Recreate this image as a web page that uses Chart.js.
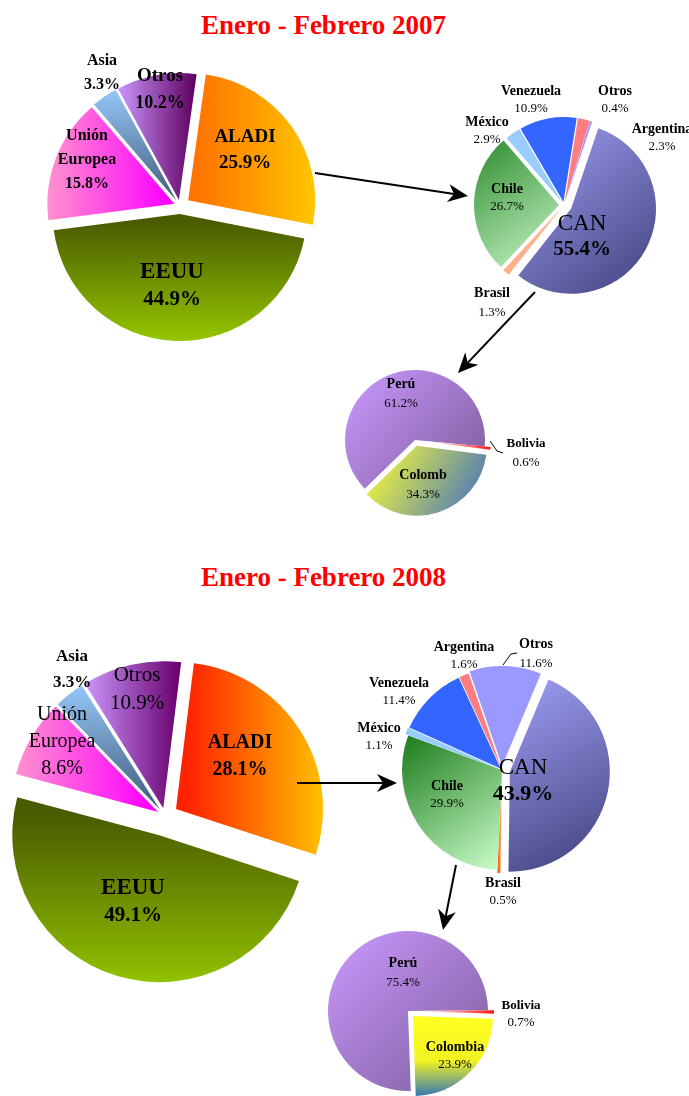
<!DOCTYPE html>
<html>
<head>
<meta charset="utf-8">
<script src="https://cdn.jsdelivr.net/npm/chart.js@4.4.1/dist/chart.umd.min.js"></script>
<style>
  html, body { margin: 0; padding: 0; overflow: hidden; background: #fff; }
  body { position: relative; width: 689px; height: 1096px; }
  canvas { position: absolute; }
  .title {
    position: absolute; left: 0; width: 647px; text-align: center;
    color: #ff0000; font: bold 27px "Liberation Serif", "DejaVu Serif", serif;
    line-height: 30px;
  }
  svg { position: absolute; left: 0; top: 0; pointer-events: none; }
</style>
</head>
<body>
<div class="title" style="top:10px">Enero - Febrero 2007</div>
<div class="title" style="top:562px">Enero - Febrero 2008</div>

<canvas id="main07" width="360" height="412" style="left:0;top:0"></canvas>
<canvas id="aladi07" width="300" height="300" style="left:414px;top:55px"></canvas>
<canvas id="can07" width="260" height="200" style="left:285px;top:340px"></canvas>
<canvas id="main08" width="330" height="400" style="left:0;top:616px"></canvas>
<canvas id="aladi08" width="320" height="320" style="left:342px;top:610px"></canvas>
<canvas id="can08" width="300" height="240" style="left:258px;top:891px"></canvas>

<svg id="overlay" width="689" height="1096"></svg>

<script>
// ---- data: Enero - Febrero 2007 ----
const main07Labels = ['ALADI', 'EEUU', 'Unión\nEuropea', 'Asia', 'Otros'];
const main07Values = [25.9, 44.9, 15.8, 3.3, 10.2];
const aladi07Labels = ['Argentina', 'Otros', 'CAN', 'Brasil', 'Chile', 'México', 'Venezuela'];
const aladi07Values = [2.3, 0.4, 55.4, 1.3, 26.7, 2.9, 10.9];
const can07Labels = ['Perú', 'Bolivia', 'Colomb'];
const can07Values = [61.2, 0.6, 34.3];

// ---- data: Enero - Febrero 2008 ----
const main08Labels = ['ALADI', 'EEUU', 'Unión\nEuropea', 'Asia', 'Otros'];
const main08Values = [28.1, 49.1, 8.6, 3.3, 10.9];
const aladi08Labels = ['Otros', 'CAN', 'Brasil', 'Chile', 'México', 'Venezuela', 'Argentina'];
const aladi08Values = [11.6, 43.9, 0.5, 29.9, 1.1, 11.4, 1.6];
const can08Labels = ['Perú', 'Bolivia', 'Colombia'];
const can08Values = [75.4, 0.7, 23.9];

const FONT = '"Liberation Serif", "DejaVu Serif", serif';

// bounding box of one (exploded) slice, used to lay gradients over it
function sliceBox(values, i, cfg, area) {
  const total = values.reduce((a, b) => a + b, 0);
  let a0 = (cfg.rotation - 90) * Math.PI / 180;
  for (let k = 0; k < i; k++) a0 += values[k] / total * 2 * Math.PI;
  const a1 = a0 + values[i] / total * 2 * Math.PI;
  const mid = (a0 + a1) / 2;
  const off = cfg.offsets[i] || 0;
  const cx = (area.left + area.right) / 2 + Math.cos(mid) * off;
  const cy = (area.top + area.bottom) / 2 + Math.sin(mid) * off;
  const R = cfg.radius;
  const angs = [a0, a1];
  for (let q = -8; q <= 12; q++) {
    const a = q * Math.PI / 2;
    if (a > a0 && a < a1) angs.push(a);
  }
  const xs = [cx], ys = [cy];
  angs.forEach(a => { xs.push(cx + R * Math.cos(a)); ys.push(cy + R * Math.sin(a)); });
  return { x0: Math.min(...xs), x1: Math.max(...xs), y0: Math.min(...ys), y1: Math.max(...ys) };
}

// draws each arc moved out along its middle angle (Excel style explode)
const explode = {
  id: 'explode',
  beforeDatasetDraw(chart, args, opts) {
    const ctx = chart.ctx;
    args.meta.data.forEach((arc, i) => {
      const d = opts.offsets[i] || 0;
      const mid = (arc.startAngle + arc.endAngle) / 2;
      ctx.save();
      ctx.translate(Math.cos(mid) * d, Math.sin(mid) * d);
      arc.draw(ctx);
      ctx.restore();
    });
    return false;
  }
};

const sliceLabels = {
  id: 'sliceLabels',
  afterDatasetsDraw(chart, args, opts) {
    const ctx = chart.ctx, a = chart.chartArea;
    const cx = (a.left + a.right) / 2, cy = (a.top + a.bottom) / 2;
    const vals = chart.data.datasets[0].data;
    ctx.save();
    ctx.textAlign = 'center';
    ctx.textBaseline = 'middle';
    ctx.fillStyle = '#000';
    chart.data.labels.forEach((lab, i) => {
      const p = opts.place[i];
      const lines = lab.split('\n').map(t => [t, p.name]);
      lines.push([vals[i].toFixed(1) + '%', p.value]);
      const h = p.lh * (lines.length - 1);
      lines.forEach(([t, f], k) => {
        ctx.font = f + ' ' + FONT;
        ctx.fillText(t, cx + p.x, cy + p.y - h / 2 + k * p.lh);
      });
    });
    ctx.restore();
  }
};

function makePie(id, labels, values, cfg) {
  const fillFor = (c) => {
    const spec = cfg.fills[c.dataIndex];
    if (typeof spec === 'string') return spec;
    const chart = c.chart, area = chart.chartArea;
    if (c.type !== 'data' || !area) return spec[1];
    const b = sliceBox(values, c.dataIndex, cfg, area);
    let g;
    if (spec[0] === 'h') g = chart.ctx.createLinearGradient(b.x0, 0, b.x1, 0);
    else if (spec[0] === 'v') g = chart.ctx.createLinearGradient(0, b.y0, 0, b.y1);
    else g = chart.ctx.createLinearGradient(b.x0, b.y0, b.x1, b.y1);
    const stops = spec.slice(1);
    stops.forEach((col, k) => g.addColorStop(k / (stops.length - 1), col));
    return g;
  };
  return new Chart(document.getElementById(id), {
    type: 'pie',
    data: {
      labels: labels,
      datasets: [{ data: values, backgroundColor: fillFor, borderWidth: 0 }]
    },
    options: {
      responsive: false,
      animation: false,
      events: [],
      rotation: cfg.rotation,
      radius: cfg.radius,
      layout: { padding: 0 },
      plugins: {
        legend: { display: false },
        tooltip: { enabled: false },
        explode: { offsets: cfg.offsets },
        sliceLabels: { place: cfg.place }
      }
    },
    plugins: [explode, sliceLabels]
  });
}

const B = 'bold';
const SN = B + ' 14px';   // small pie: names
const SV = '13px';        // small pie: values

// ---- 2007 ----
makePie('main07', main07Labels, main07Values, {
  rotation: 8, radius: 127,
  offsets: [10, 8, 6, 6, 6],
  fills: [
    ['h', '#FF7300', '#FFCC00'],
    ['v', '#4A5C00', '#9ACD00'],
    ['h', '#FF99CC', '#FF00FF'],
    ['v', '#99CCFF', '#46607E'],
    ['h', '#CC99FF', '#5E0060']
  ],
  place: [
    { x: 65, y: -56, lh: 26, name: B + ' 19px', value: B + ' 19px' },
    { x: -8, y: 80, lh: 28, name: B + ' 23px', value: B + ' 21px' },
    { x: -93, y: -46, lh: 24, name: B + ' 16px', value: B + ' 16px' },
    { x: -78, y: -133, lh: 24, name: B + ' 16px', value: B + ' 16px' },
    { x: -20, y: -116, lh: 27, name: '600 19px', value: '600 18px' }
  ]
});

makePie('aladi07', aladi07Labels, aladi07Values, {
  rotation: 9, radius: 85,
  offsets: [3, 3, 8, 4, 5, 3, 3],
  fills: [
    '#FF7C80',
    '#9999FF',
    ['d', '#9C9CF2', '#3E3E78'],
    '#FFB08A',
    ['d', '#2A8A2A', '#C8F5C8'],
    '#99CCFF',
    '#3366FF'
  ],
  place: [
    { x: 98, y: -67, lh: 18, name: SN, value: SV },
    { x: 51, y: -105, lh: 18, name: SN, value: SV },
    { x: 18, y: 32, lh: 26, name: '23px', value: B + ' 21px' },
    { x: -72, y: 98, lh: 19, name: SN, value: SV },
    { x: -57, y: -7, lh: 18, name: SN, value: SV },
    { x: -77, y: -74, lh: 18, name: SN, value: SV },
    { x: -33, y: -105, lh: 18, name: SN, value: SV }
  ]
});

makePie('can07', can07Labels, can07Values, {
  rotation: 226, radius: 70,
  offsets: [0, 6, 6],
  fills: [
    ['d', '#CC99FF', '#7A5C9A'],
    ['h', '#FFFFFF', '#FF0000'],
    ['d', '#FFFF33', '#3366CC']
  ],
  place: [
    { x: -14, y: -46, lh: 19, name: SN, value: SV },
    { x: 111, y: 13, lh: 19, name: B + ' 13px', value: SV },
    { x: 8, y: 45, lh: 19, name: SN, value: SV }
  ]
});

// ---- 2008 ----
makePie('main08', main08Labels, main08Values, {
  rotation: 7, radius: 147,
  offsets: [13, 20, 8, 8, 8],
  fills: [
    ['h', '#FF2200', '#FFCC00'],
    ['v', '#4A5C00', '#9ACD00'],
    ['h', '#FF99CC', '#FF00FF'],
    ['v', '#99CCFF', '#46607E'],
    ['h', '#CC99FF', '#6A006E']
  ],
  place: [
    { x: 75, y: -60, lh: 27, name: '600 20px', value: '600 20px' },
    { x: -32, y: 86, lh: 28, name: '600 23px', value: B + ' 21px' },
    { x: -103, y: -74, lh: 27, name: '500 20px', value: '500 20px' },
    { x: -93, y: -146, lh: 26, name: B + ' 17px', value: B + ' 17px' },
    { x: -28, y: -127, lh: 28, name: '500 21px', value: '500 21px' }
  ]
});

makePie('aladi08', aladi08Labels, aladi08Values, {
  rotation: -19, radius: 100,
  offsets: [4, 8, 3, 0, 3, 2, 2],
  fills: [
    '#9999FF',
    ['d', '#9C9CF2', '#3E3E78'],
    ['h', '#FF3300', '#FFCC66'],
    ['d', '#1A7A1A', '#CCFFCC'],
    '#99CCFF',
    '#3366FF',
    '#FF7C80'
  ],
  place: [
    { x: 34, y: -116, lh: 19, name: SN, value: SV },
    { x: 21, y: 11, lh: 26, name: '23px', value: B + ' 22px' },
    { x: 1, y: 122, lh: 18, name: SN, value: SV },
    { x: -55, y: 25, lh: 18, name: SN, value: SV },
    { x: -123, y: -33, lh: 18, name: SN, value: SV },
    { x: -103, y: -78, lh: 18, name: SN, value: SV },
    { x: -38, y: -114, lh: 18, name: SN, value: SV }
  ]
});

makePie('can08', can08Labels, can08Values, {
  rotation: 178, radius: 80,
  offsets: [0, 6, 7],
  fills: [
    ['d', '#CC99FF', '#7A5C9A'],
    ['h', '#FFFFFF', '#FF0000'],
    ['v', '#FFFF22', '#F2F222', '#1A66CC']
  ],
  place: [
    { x: -5, y: -38, lh: 19, name: SN, value: SV },
    { x: 113, y: 3, lh: 17, name: B + ' 13px', value: SV },
    { x: 47, y: 45, lh: 18, name: SN, value: SV }
  ]
});

// ---- arrows and leader lines between the pies ----
const arrows = [[315, 173, 468, 196], [535, 292, 458, 373], [297, 783, 397, 783], [456, 865, 443, 930]];
const leaders = [[490, 441, 497, 451, 503, 453], [503, 665, 511, 654, 517, 653]];
let svg = '';
arrows.forEach(([x0, y0, x1, y1]) => {
  const L = Math.hypot(x1 - x0, y1 - y0), ux = (x1 - x0) / L, uy = (y1 - y0) / L;
  const nx = -uy, ny = ux, hl = 20, hw = 9;
  const bx = x1 - ux * hl, by = y1 - uy * hl;
  const kx = x1 - ux * hl * 0.7, ky = y1 - uy * hl * 0.7;
  svg += `<line x1="${x0}" y1="${y0}" x2="${kx}" y2="${ky}" stroke="#000" stroke-width="2"/>`;
  svg += `<path d="M${x1},${y1} L${bx + nx * hw},${by + ny * hw} L${kx},${ky} L${bx - nx * hw},${by - ny * hw} Z" fill="#000"/>`;
});
leaders.forEach(p => {
  svg += `<polyline points="${p.join(',')}" fill="none" stroke="#000" stroke-width="1"/>`;
});
document.getElementById('overlay').innerHTML = svg;
</script>
</body>
</html>
